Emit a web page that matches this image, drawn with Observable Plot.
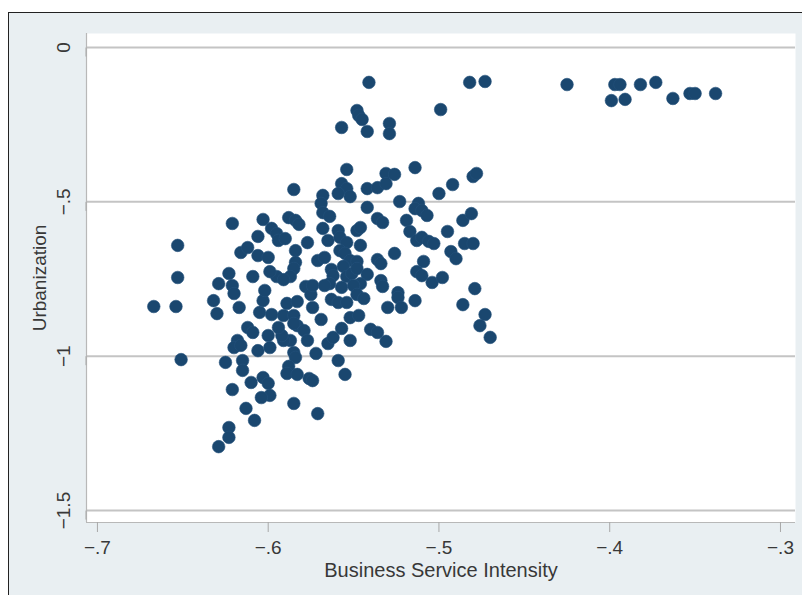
<!DOCTYPE html>
<html><head><meta charset="utf-8">
<script src="https://cdn.jsdelivr.net/npm/d3@7"></script>
<script src="https://cdn.jsdelivr.net/npm/@observablehq/plot@0.6"></script>
<style>
html,body{margin:0;padding:0;background:#fff;width:802px;height:595px;overflow:hidden;}
#bg{position:absolute;left:8px;top:12px;width:820px;height:620px;border-left:1.5px solid #222;border-top:1.5px solid #222;background:#e9eff2;}
#chart{position:absolute;left:0;top:0;}
</style></head><body>
<div id="bg"></div><div id="chart"></div>
<script>
const bsi = [-0.541,-0.482,-0.473,-0.499,-0.425,-0.397,-0.394,-0.399,-0.391,-0.382,-0.373,-0.363,-0.353,-0.350,-0.338,-0.548,-0.547,-0.545,-0.557,-0.542,
-0.529,-0.529,-0.554,-0.531,-0.526,-0.514,-0.492,-0.480,-0.478,-0.500,-0.585,-0.557,-0.554,-0.559,-0.552,-0.542,-0.536,-0.531,-0.568,-0.569,
-0.568,-0.564,-0.523,-0.512,-0.514,-0.510,-0.507,-0.542,-0.536,-0.533,-0.519,-0.517,-0.486,-0.481,-0.513,-0.510,-0.506,-0.503,-0.495,-0.485,
-0.480,-0.493,-0.490,-0.526,-0.509,-0.513,-0.510,-0.504,-0.498,-0.479,-0.524,-0.524,-0.514,-0.522,-0.486,-0.473,-0.476,-0.470,-0.588,-0.584,
-0.582,-0.598,-0.595,-0.594,-0.590,-0.577,-0.568,-0.565,-0.559,-0.558,-0.554,-0.548,-0.546,-0.546,-0.584,-0.584,-0.585,-0.587,-0.571,-0.567,
-0.558,-0.555,-0.552,-0.548,-0.536,-0.534,-0.563,-0.562,-0.556,-0.554,-0.551,-0.548,-0.542,-0.546,-0.564,-0.534,-0.533,-0.595,-0.591,-0.599,
-0.609,-0.578,-0.575,-0.574,-0.567,-0.557,-0.550,-0.589,-0.583,-0.574,-0.569,-0.563,-0.559,-0.554,-0.548,-0.544,-0.530,-0.557,-0.552,-0.547,
-0.540,-0.536,-0.531,-0.591,-0.585,-0.598,-0.603,-0.602,-0.605,-0.617,-0.629,-0.621,-0.620,-0.632,-0.630,-0.583,-0.579,-0.585,-0.577,-0.587,
-0.591,-0.592,-0.594,-0.600,-0.599,-0.606,-0.612,-0.609,-0.618,-0.620,-0.616,-0.565,-0.562,-0.552,-0.651,-0.625,-0.615,-0.615,-0.585,-0.584,
-0.572,-0.559,-0.555,-0.588,-0.589,-0.583,-0.576,-0.574,-0.621,-0.610,-0.603,-0.600,-0.599,-0.604,-0.613,-0.585,-0.608,-0.571,-0.623,-0.623,
-0.629,-0.667,-0.654,-0.653,-0.653,-0.621,-0.603,-0.606,-0.616,-0.612,-0.606,-0.600,-0.623];
const urb = [-0.113,-0.113,-0.110,-0.201,-0.120,-0.120,-0.120,-0.172,-0.168,-0.120,-0.113,-0.165,-0.149,-0.149,-0.149,-0.204,-0.220,-0.233,-0.259,-0.272,
-0.246,-0.279,-0.395,-0.408,-0.411,-0.389,-0.444,-0.418,-0.408,-0.473,-0.460,-0.441,-0.457,-0.473,-0.483,-0.457,-0.454,-0.441,-0.479,-0.505,
-0.535,-0.547,-0.499,-0.505,-0.522,-0.528,-0.544,-0.518,-0.554,-0.567,-0.560,-0.596,-0.560,-0.538,-0.625,-0.615,-0.628,-0.635,-0.596,-0.635,
-0.635,-0.661,-0.684,-0.667,-0.693,-0.726,-0.739,-0.761,-0.745,-0.781,-0.794,-0.810,-0.820,-0.842,-0.833,-0.865,-0.901,-0.939,-0.551,-0.560,
-0.573,-0.586,-0.603,-0.625,-0.619,-0.632,-0.586,-0.625,-0.593,-0.615,-0.632,-0.593,-0.583,-0.641,-0.658,-0.696,-0.716,-0.742,-0.690,-0.680,
-0.658,-0.667,-0.690,-0.693,-0.687,-0.700,-0.719,-0.739,-0.709,-0.742,-0.732,-0.716,-0.735,-0.765,-0.765,-0.755,-0.774,-0.742,-0.752,-0.726,
-0.742,-0.774,-0.800,-0.771,-0.771,-0.777,-0.771,-0.829,-0.823,-0.842,-0.881,-0.816,-0.826,-0.826,-0.800,-0.813,-0.842,-0.910,-0.875,-0.868,
-0.913,-0.923,-0.952,-0.868,-0.868,-0.865,-0.820,-0.787,-0.858,-0.842,-0.765,-0.771,-0.797,-0.820,-0.862,-0.901,-0.917,-0.894,-0.949,-0.949,
-0.949,-0.933,-0.907,-0.933,-0.972,-0.982,-0.907,-0.923,-0.949,-0.972,-0.965,-0.959,-0.939,-0.949,-1.011,-1.020,-1.014,-1.046,-0.988,-1.004,
-0.991,-1.014,-1.059,-1.033,-1.056,-1.059,-1.072,-1.079,-1.108,-1.085,-1.069,-1.088,-1.127,-1.134,-1.169,-1.153,-1.208,-1.186,-1.231,-1.263,
-1.293,-0.839,-0.839,-0.641,-0.745,-0.570,-0.557,-0.612,-0.664,-0.648,-0.674,-0.680,-0.732];
const xTicks = [-0.7, -0.6, -0.5, -0.4, -0.3];
const yTicks = [0, -0.5, -1, -1.5];
const xDomain = [-0.7064, -0.2912];
const yDomain = [-1.5387, 0.0454];
const xTitle = "Business Service Intensity";
const yTitle = "Urbanization";

const data = bsi.map((x, i) => ({x, y: urb[i]}));
const fmt = d => d === 0 ? "0" : "\u2212" + String(Math.abs(d)).replace(/^0/, "");

const plot = Plot.plot({
  width: 802, height: 595,
  marginLeft: 86, marginRight: 7, marginTop: 33, marginBottom: 73,
  style: {background: "transparent", fontFamily: "'Liberation Sans', Arial, sans-serif", color: "#333", overflow: "visible"},
  x: {domain: xDomain},
  y: {domain: yDomain},
  marks: [
    Plot.frame({fill: "white", stroke: null}),
    Plot.gridY(yTicks, {stroke: "#c4c4c4", strokeWidth: 2, strokeOpacity: 1}),
    Plot.ruleX([xDomain[0]], {stroke: "#b8b8b8", strokeWidth: 1.2}),
    Plot.ruleY([yDomain[0]], {stroke: "#b8b8b8", strokeWidth: 1.2}),
    Plot.axisY(yTicks, {tickSize: 9, tickPadding: 8, rotate: -90, textAnchor: "middle", lineAnchor: "bottom",
      tickFormat: fmt, fontSize: 19, stroke: "#a8a8a8", fill: "#383838", label: yTitle, labelAnchor: "center", labelArrow: "none", labelOffset: 54}),
    Plot.axisX(xTicks, {tickSize: 10, tickPadding: 8, tickFormat: fmt, fontSize: 19, stroke: "#a8a8a8", fill: "#383838", label: null}),
    Plot.axisX([], {tickSize: 0, fontSize: 20, fill: "#383838", label: xTitle, labelAnchor: "center", labelArrow: "none", labelOffset: 54}),
    Plot.dot(data, {x: "x", y: "y", r: 6.3, fill: "#1a476f", stroke: "#24507a", strokeWidth: 0.6})
  ]
});
document.getElementById("chart").appendChild(plot);
</script>
</body></html>
